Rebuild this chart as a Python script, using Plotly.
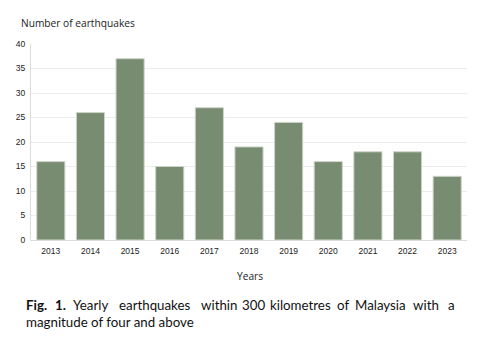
import plotly.graph_objects as go

years = ["2013", "2014", "2015", "2016", "2017", "2018", "2019", "2020", "2021", "2022", "2023"]
counts = [16, 26, 37, 15, 27, 19, 24, 16, 18, 18, 13]
y_ticks = [0, 5, 10, 15, 20, 25, 30, 35, 40]

caption_line1 = ["<b>Fig.</b>", "<b>1.</b>", "Yearly", "earthquakes", "within", "300",
                 "kilometres", "of", "Malaysia", "with", "a"]
caption_line1_starts = [24, 52.5, 71, 116.5, 199, 240, 268, 335, 353, 411, 447]
caption_line2 = "magnitude of four and above"

W, H = 478, 353
ml, mr, mt, mb = 31, 11, 44, 113
pw = W - ml - mr
ph = H - mt - mb


def paper_x(x):
    return (x - ml) / pw


def paper_y(y):
    return (H - mb - y) / ph


fig = go.Figure()
fig.add_trace(go.Bar(
    x=years, y=counts,
    marker=dict(color="#788c71", line=dict(color="#cdd5c9", width=1)),
))

cap_font = dict(family="Lato", size=13.3, color="#111")
annots = [
    dict(text="Number of earthquakes", x=paper_x(19), y=paper_y(22.5), xanchor="left", yanchor="middle",
         font=dict(family="Open Sans", size=10.2, color="#222")),
    dict(text="Years", x=paper_x(250), y=paper_y(276), xanchor="center", yanchor="middle",
         font=dict(family="Open Sans", size=10.2, color="#222")),
    dict(text=caption_line2, x=paper_x(24), y=paper_y(322), xanchor="left", yanchor="middle", font=cap_font),
]
for i, (w, sx) in enumerate(zip(caption_line1, caption_line1_starts)):
    if i == len(caption_line1) - 1:
        annots.append(dict(text=w, x=paper_x(457), y=paper_y(305), xanchor="right", yanchor="middle", font=cap_font))
    else:
        annots.append(dict(text=w, x=paper_x(sx), y=paper_y(305), xanchor="left", yanchor="middle", font=cap_font))
for a in annots:
    a.update(xref="paper", yref="paper", showarrow=False)

fig.update_layout(
    width=W, height=H,
    margin=dict(l=ml, r=mr, t=mt, b=mb),
    paper_bgcolor="white", plot_bgcolor="white",
    bargap=0.29,
    showlegend=False,
    annotations=annots,
    xaxis=dict(showline=True, linecolor="#dcdcdc", linewidth=1, ticks="", showgrid=False,
               ticklabelstandoff=3,
               tickfont=dict(family="Liberation Sans", size=8.5, color="#222")),
    yaxis=dict(range=[0, 40], tickvals=y_ticks, showline=True, linecolor="#dcdcdc", linewidth=1,
               gridcolor="#ececec", gridwidth=1, zeroline=False, ticks="",
               ticklabelstandoff=3,
               tickfont=dict(family="Liberation Sans", size=8.5, color="#222")),
)

fig.write_html("out.html")
